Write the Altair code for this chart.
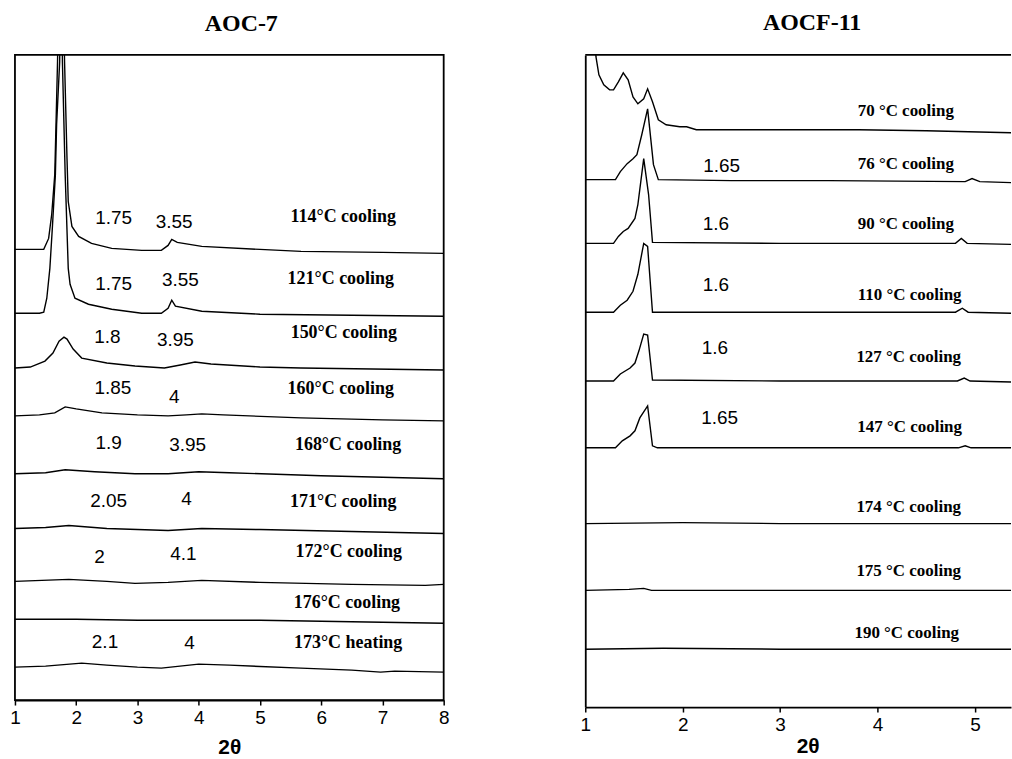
import altair as alt
import pandas as pd

# ---------------- AOC-7 (left) : 2theta and stacked intensity (a.u.) ----------------
AOC7_114_X = [1.0, 1.30, 1.47, 1.55, 1.60, 1.65, 1.67, 1.695, 1.755, 1.81, 1.85, 1.87, 1.93, 2.04, 2.25, 2.58, 3.07, 3.39, 3.50, 3.56, 3.65, 4.05, 5.0, 5.67, 7.0, 8.0]
AOC7_114_I = [452, 452, 452, 463, 487, 527, 577, 640, 850, 640, 543, 500, 475, 465, 458, 453, 451, 451, 456, 462, 459, 455, 452, 450, 449, 448]

AOC7_121_X = [1.0, 1.40, 1.47, 1.52, 1.57, 1.61, 1.66, 1.68, 1.73, 1.755, 1.775, 1.82, 1.87, 1.90, 1.98, 2.2, 2.58, 3.07, 3.39, 3.50, 3.56, 3.62, 4.05, 5.0, 8.0]
AOC7_121_I = [388, 388, 389, 403, 433, 473, 527, 577, 640, 760, 640, 527, 433, 417, 403, 397, 392, 388, 388, 393, 401, 395, 390, 387, 385]

AOC7_150_X = [1.0, 1.25, 1.49, 1.62, 1.72, 1.80, 1.85, 1.95, 2.09, 2.5, 2.96, 3.44, 3.7, 3.94, 4.2, 5.0, 5.67, 8.0]
AOC7_150_I = [333, 334, 340, 348, 360, 364, 362, 352, 343, 338, 335, 333, 336, 339, 337, 334, 333, 331]

AOC7_160_X = [1.0, 1.4, 1.65, 1.82, 2.0, 2.42, 3.0, 3.5, 3.8, 4.05, 4.4, 5.67, 7.0, 8.0]
AOC7_160_I = [285, 286, 288, 294, 292, 288, 286, 285, 286, 287, 286, 283, 281, 280]

AOC7_168_X = [1.0, 1.5, 1.82, 2.3, 2.96, 3.5, 4.0, 4.5, 6.0, 8.0]
AOC7_168_I = [227, 228, 231, 229, 227, 227, 229, 228, 225, 222]

AOC7_171_X = [1.0, 1.5, 1.88, 2.5, 3.5, 4.05, 5.0, 6.5, 8.0]
AOC7_171_I = [172, 173, 175, 172, 170, 172, 171, 169, 167]

AOC7_172_X = [1.0, 1.88, 2.5, 2.96, 3.5, 4.05, 5.0, 6.5, 7.7, 8.0]
AOC7_172_I = [119, 121, 119, 117, 118, 120, 118, 116, 115, 116]

AOC7_176_X = [1.0, 2.0, 3.0, 4.05, 5.0, 6.0, 7.0, 8.0]
AOC7_176_I = [81, 81, 80, 80, 80, 79, 78, 77]

AOC7_173H_X = [1.0, 1.5, 2.09, 2.5, 3.0, 3.39, 4.0, 4.5, 5.67, 6.5, 6.97, 7.2, 8.0]
AOC7_173H_I = [33, 34, 37, 35, 33, 32, 36, 35, 32, 30, 28, 29, 28]

AOC7_SERIES = [
    ("114", AOC7_114_X, AOC7_114_I), ("121", AOC7_121_X, AOC7_121_I),
    ("150", AOC7_150_X, AOC7_150_I), ("160", AOC7_160_X, AOC7_160_I),
    ("168", AOC7_168_X, AOC7_168_I), ("171", AOC7_171_X, AOC7_171_I),
    ("172", AOC7_172_X, AOC7_172_I), ("176", AOC7_176_X, AOC7_176_I),
    ("173h", AOC7_173H_X, AOC7_173H_I),
]

# peak position labels (2theta values) and their anchor in data units
AOC7_PEAK_TEXT = ["1.75", "3.55", "1.75", "3.55", "1.8", "3.95", "1.85", "4", "1.9", "3.95", "2.05", "4", "2", "4.1", "2.1", "4"]
AOC7_PEAK_X = [2.61, 3.60, 2.61, 3.70, 2.51, 3.62, 2.60, 3.60, 2.53, 3.82, 2.53, 3.80, 2.38, 3.75, 2.47, 3.85]
AOC7_PEAK_Y = [483, 479, 417, 421, 364, 361, 313, 304, 258, 256, 200, 202, 143, 146, 58, 57]

AOC7_COND_TEXT = ["114°C cooling", "121°C cooling", "150°C cooling", "160°C cooling", "168°C cooling",
                  "171°C cooling", "172°C cooling", "176°C cooling", "173°C heating"]
AOC7_COND_X = [6.36, 6.32, 6.37, 6.32, 6.44, 6.36, 6.45, 6.42, 6.44]
AOC7_COND_Y = [484, 422, 368, 312, 256, 199, 148, 97, 57]

# ---------------- AOCF-11 (right) ----------------
AOCF_70_X = [1.0, 1.11, 1.14, 1.19, 1.25, 1.29, 1.34, 1.39, 1.44, 1.49, 1.54, 1.60, 1.64, 1.69, 1.75, 1.83, 1.97, 2.04, 2.14, 2.31, 3.0, 3.81, 4.5, 5.37]
AOCF_70_I = [767, 652, 634, 624, 619, 619, 627, 636, 629, 612, 605, 610, 620, 607, 589, 584, 582, 582, 579, 579, 579, 579, 578, 576]

AOCF_76_X = [1.0, 1.31, 1.36, 1.43, 1.49, 1.53, 1.58, 1.64, 1.70, 1.75, 2.5, 3.5, 4.9, 4.97, 5.05, 5.37]
AOCF_76_I = [529, 529, 537, 545, 550, 554, 574, 600, 544, 529, 528, 528, 527, 530, 527, 526]

AOCF_90_X = [1.0, 1.29, 1.34, 1.39, 1.44, 1.51, 1.54, 1.60, 1.65, 1.69, 3.0, 4.8, 4.86, 4.92, 5.37]
AOCF_90_I = [465, 465, 472, 477, 480, 490, 504, 550, 514, 466, 465, 465, 470, 465, 464]

AOCF_110_X = [1.0, 1.29, 1.36, 1.43, 1.49, 1.54, 1.60, 1.64, 1.69, 3.0, 4.8, 4.87, 4.93, 5.37]
AOCF_110_I = [396, 396, 403, 408, 417, 434, 465, 462, 396, 396, 396, 400, 396, 395]

AOCF_127_X = [1.0, 1.29, 1.36, 1.46, 1.51, 1.55, 1.60, 1.64, 1.69, 3.0, 4.82, 4.89, 4.95, 5.37]
AOCF_127_I = [327, 327, 334, 340, 345, 357, 374, 373, 328, 327, 327, 330, 327, 326]

AOCF_147_X = [1.0, 1.31, 1.38, 1.46, 1.51, 1.56, 1.64, 1.69, 1.74, 4.83, 4.9, 4.96, 5.37]
AOCF_147_I = [260, 260, 267, 272, 277, 290, 302, 262, 260, 260, 262, 260, 260]

AOCF_174_X = [1.0, 2.0, 3.0, 5.37]
AOCF_174_I = [184, 185, 184, 184]

AOCF_175_X = [1.0, 1.45, 1.6, 1.68, 5.37]
AOCF_175_I = [117, 118, 119, 117, 117]

AOCF_190_X = [1.0, 1.8, 3.0, 5.37]
AOCF_190_I = [58, 59, 58, 58]

AOCF_SERIES = [
    ("70", AOCF_70_X, AOCF_70_I), ("76", AOCF_76_X, AOCF_76_I), ("90", AOCF_90_X, AOCF_90_I),
    ("110", AOCF_110_X, AOCF_110_I), ("127", AOCF_127_X, AOCF_127_I), ("147", AOCF_147_X, AOCF_147_I),
    ("174", AOCF_174_X, AOCF_174_I), ("175", AOCF_175_X, AOCF_175_I), ("190", AOCF_190_X, AOCF_190_I),
]

AOCF_PEAK_TEXT = ["1.65", "1.6", "1.6", "1.6", "1.65"]
AOCF_PEAK_X = [2.40, 2.34, 2.34, 2.33, 2.38]
AOCF_PEAK_Y = [543, 484, 423, 360, 290]

AOCF_COND_TEXT = ["70 °C cooling", "76 °C cooling", "90 °C cooling", "110 °C cooling", "127 °C cooling",
                  "147 °C cooling", "174 °C cooling", "175 °C cooling", "190 °C cooling"]
AOCF_COND_X = [4.29, 4.29, 4.29, 4.33, 4.32, 4.33, 4.32, 4.32, 4.30]
AOCF_COND_Y = [598, 545, 484, 413, 351, 281, 201, 136, 74]

LEFT_TICKS = [1, 1.5, 2, 2.5, 3, 3.5, 4, 4.5, 5, 5.5, 6, 6.5, 7, 7.5, 8]
RIGHT_TICKS = [1, 1.5, 2, 2.5, 3, 3.5, 4, 4.5, 5]


def series_frame(series):
    rows = []
    for name, xs, ys in series:
        for i, (x, y) in enumerate(zip(xs, ys)):
            rows.append({"series": name, "idx": i, "x": x, "I": y})
    return pd.DataFrame(rows)


def text_frame(texts, xs, ys):
    return pd.DataFrame({"t": texts, "x": xs, "I": ys})


SANS = "Liberation Sans"
SERIF = "Liberation Serif"


def panel(series, peak, cond, xdom, ydom, ticks, w, h, title, title_dx, xtitle_x, xtitle_y, cond_size, frame):
    xscale = alt.Scale(domain=xdom, nice=False, zero=False)
    yscale = alt.Scale(domain=ydom, nice=False, zero=False)
    xaxis = alt.Axis(values=ticks, format="d", labelExpr="datum.value % 1 == 0 ? datum.label : ''",
                     grid=False, tickSize=5, tickWidth=1.5, tickColor="black",
                     domain=True, domainColor="black", domainWidth=1.8,
                     labelFont=SANS, labelFontSize=19, labelColor="black", labelPadding=4,
                     title="2θ", titleFont=SANS, titleFontSize=21, titleFontWeight="bold",
                     titleColor="black", titleX=xtitle_x, titleY=xtitle_y, titleBaseline="middle",
                     titleAlign="center", labelFlush=False)
    if frame:
        yaxis = None
    else:
        yaxis = alt.Axis(labels=False, ticks=False, title=None, grid=False, domain=True,
                         domainColor="black", domainWidth=1.8)

    lines = alt.Chart(series_frame(series)).mark_line(color="black", strokeWidth=1.4, clip=True).encode(
        x=alt.X("x:Q", scale=xscale, axis=xaxis),
        y=alt.Y("I:Q", scale=yscale, axis=yaxis),
        detail="series:N",
        order="idx:Q",
    )
    peaks = alt.Chart(text_frame(*peak)).mark_text(font=SANS, fontSize=19, color="black",
                                                   align="center", baseline="middle").encode(
        x="x:Q", y="I:Q", text="t:N")
    conds = alt.Chart(text_frame(*cond)).mark_text(font=SERIF, fontSize=cond_size, fontWeight="bold",
                                                   color="black", align="center", baseline="middle").encode(
        x="x:Q", y="I:Q", text="t:N")
    layers = [lines, peaks, conds]
    if not frame:
        top = alt.Chart(pd.DataFrame({"a": [0]})).mark_rule(color="black", strokeWidth=1.8).encode(
            x=alt.value(0), x2=alt.value(w), y=alt.value(0))
        layers = [top] + layers
    props = dict(width=w, height=h,
                 title=alt.TitleParams(title, font=SERIF, fontSize=24, fontWeight="bold", color="black",
                                       anchor="middle", dx=title_dx, offset=0, baseline="alphabetic"))
    ch = alt.layer(*layers).properties(**props)
    if frame:
        ch = ch.properties(view=alt.ViewBackground(stroke="black", strokeWidth=1.8))
    return ch


left = panel(AOC7_SERIES, (AOC7_PEAK_TEXT, AOC7_PEAK_X, AOC7_PEAK_Y),
             (AOC7_COND_TEXT, AOC7_COND_X, AOC7_COND_Y),
             [1, 8], [0, 647], LEFT_TICKS, 430, 647, "AOC-7", 12, 215, 48, 18, True)
right = panel(AOCF_SERIES, (AOCF_PEAK_TEXT, AOCF_PEAK_X, AOCF_PEAK_Y),
              (AOCF_COND_TEXT, AOCF_COND_X, AOCF_COND_Y),
              [1, 5.37], [0, 654], RIGHT_TICKS, 427, 654, "AOCF-11", 14, 223, 40, 17, False)

chart = alt.hconcat(left, right, spacing=142, bounds="flush").configure_view(stroke=None).properties(
    padding={"left": 8, "top": 10, "right": 0, "bottom": 0})

chart.save("out.html", embed_options={"renderer": "svg", "actions": False})
